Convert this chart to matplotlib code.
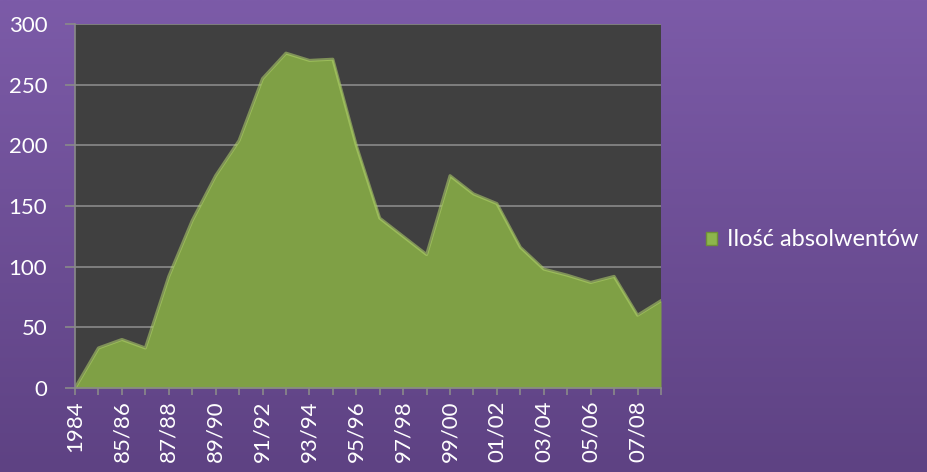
import numpy as np
import matplotlib
matplotlib.use("Agg")
import matplotlib.pyplot as plt
from matplotlib.patches import Patch

categories = ['1984', '84/85', '85/86', '86/87', '87/88', '88/89', '89/90', '90/91',
              '91/92', '92/93', '93/94', '94/95', '95/96', '96/97', '97/98', '98/99',
              '99/00', '00/01', '01/02', '02/03', '03/04', '04/05', '05/06', '06/07',
              '07/08', '08/09']
values = [0, 33, 40, 33, 92, 138, 175, 204, 255, 276, 270, 271, 200, 140, 125, 110,
          175, 160, 152, 116, 98, 93, 87, 92, 60, 72]
series_name = 'Ilość absolwentów'
yticks = [0, 50, 100, 150, 200, 250, 300]

plt.rcParams['font.family'] = ['Lato', 'DejaVu Sans']

fig = plt.figure(figsize=(9.27, 4.72), dpi=100)

# gradient background
bg = fig.add_axes([0, 0, 1, 1], zorder=-10)
top = np.array([124, 91, 168]) / 255
bot = np.array([94, 66, 131]) / 255
t = np.linspace(0, 1, 256)[:, None]
grad = (top[None, :] * (1 - t) + bot[None, :] * t)[:, None, :]
bg.imshow(grad, aspect='auto', extent=[0, 1, 0, 1])
bg.axis('off')

ax = fig.add_axes([75 / 927, 1 - 388 / 472, (661 - 75) / 927, (388 - 24) / 472])
ax.set_facecolor('#404040')
x = np.arange(len(values))
ax.fill_between(x, 0, values, color='#7fa045', zorder=3, linewidth=0)
ax.plot(x, values, color='#b3d46c', lw=2.2, alpha=0.55, zorder=4,
        solid_joinstyle='round')

ax.set_xlim(0, len(values) - 1)
ax.set_ylim(0, 300)
ax.set_yticks(yticks)
ax.grid(axis='y', color='#8a8a8a', lw=1.2, zorder=1)
ax.set_axisbelow(True)

ax.set_xticks(x)
ax.set_xticklabels([c if i % 2 == 0 else '' for i, c in enumerate(categories)],
                   rotation=90, va='top', ha='center')
for s in ['top', 'right']:
    ax.spines[s].set_visible(False)
for s in ['left', 'bottom']:
    ax.spines[s].set_color('#8a8a8a')
    ax.spines[s].set_linewidth(1.2)
    ax.spines[s].set_zorder(5)
ax.tick_params(axis='x', colors='#8a8a8a', length=5, width=1.2, labelcolor='white',
               labelsize=16, pad=4)
ax.tick_params(axis='y', colors='#8a8a8a', length=7, width=1.2, labelcolor='white',
               labelsize=16, pad=13)

fig.legend(handles=[Patch(facecolor='#8db64c', edgecolor='#6f8f38', label=series_name)],
           loc='center left', bbox_to_anchor=(706 / 927, 1 - 240 / 472), frameon=False,
           handlelength=0.48, handleheight=0.48, handletextpad=0.4, borderpad=0,
           borderaxespad=0, labelcolor='white', fontsize=17)

fig.savefig('out.png', dpi=100)
